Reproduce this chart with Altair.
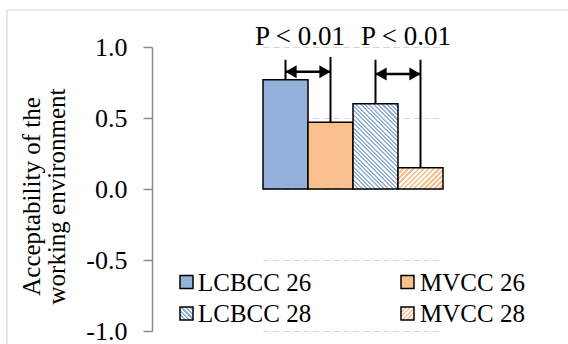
import altair as alt
import pandas as pd

# ---- data ---------------------------------------------------------------
series = ["LCBCC 26", "MVCC 26", "LCBCC 28", "MVCC 28"]
values = [0.77, 0.47, 0.60, 0.15]
base_colors = ["#93b1d9", "#f9c08e", "#93b1d9", "#f9c08e"]
hatch_style = [None, None, "back", "fwd"]   # "\\\\" stripes / "////" stripes

# significance brackets between pairs of bars
pair_left = ["LCBCC 26", "LCBCC 28"]
pair_right = ["MVCC 26", "MVCC 28"]
bracket_top_left = [0.91, 0.91]
bracket_top_right = [0.93, 0.91]
arrow_level = [0.825, 0.81]
pair_label = ["P < 0.01", "P < 0.01"]

y_ticks = [-1.0, -0.5, 0.0, 0.5, 1.0]
y_title = ["Acceptability of the", "working environment"]

# ---- layout ---------------------------------------------------------------
W, H = 406, 284
PAD = {"left": 152, "top": 47, "right": 10, "bottom": 13}
BAR_SPAN = [111, 291]          # pixel extent of the group of bars
STEP = (BAR_SPAN[1] - BAR_SPAN[0]) / len(series)
SERIF = "Liberation Serif"


def hatch(color, w, h, period, direction):
    """Linear gradient with hard stops giving 45-degree stripes on a w x h box."""
    n = max(1, round((w + h) / period))
    L = (w + h) * w / (w * w + h * h)
    if direction == "back":
        x1, y1, x2, y2 = 0, 1, L, 1 - L * h / w
    else:
        x1, y1, x2, y2 = 0, 0, L, L * h / w
    stops = []
    for k in range(n):
        a, m, b = k / n, (k + 0.5) / n, (k + 1) / n
        stops += [
            {"offset": a, "color": color},
            {"offset": m, "color": color},
            {"offset": m, "color": "white"},
            {"offset": b, "color": "white"},
        ]
    return {"gradient": "linear", "x1": x1, "y1": y1, "x2": x2, "y2": y2, "stops": stops}


def fill_for(i, w, h, period=None):
    if hatch_style[i] is None:
        return base_colors[i]
    if period is None:
        period = 4.3 if hatch_style[i] == "back" else 5.0
    return hatch(base_colors[i], w, h, period, hatch_style[i])


x_scale = alt.Scale(domain=series, range=BAR_SPAN, paddingInner=0, paddingOuter=0)


def x_of(field, **kw):
    return alt.X(f"{field}:N", scale=x_scale, axis=None, **kw)


bars_df = pd.DataFrame({"series": series, "value": values})

y_axis = alt.Axis(
    values=y_ticks,
    labelExpr="datum.value < 0 ? '-' + format(-datum.value, '.1f') : format(datum.value, '.1f')",
    labelFont=SERIF, labelFontSize=26, labelColor="black", labelPadding=16,
    tickSize=9, tickColor="#8c8c8c", tickWidth=1.5,
    domainColor="#8c8c8c", domainWidth=1.5,
    grid=True, gridColor="#d4d4d4", gridDash=[6, 4], gridWidth=1.2,
    title=y_title, titleFont=SERIF, titleFontSize=25, titleFontWeight="normal",
    titleColor="black", titlePadding=16, titleLineHeight=25, titleY=149,
)
y_enc = alt.Y("value:Q", scale=alt.Scale(domain=[-1, 1], nice=False, zero=False), axis=y_axis)

layers = []

# light frame around the whole figure
frame = alt.Chart(pd.DataFrame({"f": [0]})).mark_rect(
    filled=False, stroke="#d9d9d9", strokeWidth=1.2
).encode(x=alt.value(-145), x2=alt.value(W + 60), y=alt.value(-37), y2=alt.value(H + 60))
layers.append(frame)

# one bar layer per series so each gets its own fill
for i, s in enumerate(series):
    h_px = abs(values[i]) * H / 2
    bar = alt.Chart(bars_df).transform_filter(alt.datum.series == s).mark_bar(
        fill=fill_for(i, STEP, h_px), stroke="black", strokeWidth=1.5
    ).encode(x=x_of("series"), y=y_enc)
    layers.append(bar)

# vertical bracket legs from each bar top
value_of = dict(zip(series, values))
legs = pd.DataFrame({
    "series": pair_left + pair_right,
    "base": [value_of[s] for s in pair_left + pair_right],
    "top": bracket_top_left + bracket_top_right,
})
layers.append(
    alt.Chart(legs).mark_rule(color="black", strokeWidth=2).encode(
        x=x_of("series"), y="base:Q", y2="top:Q")
)

pairs = pd.DataFrame({"left": pair_left, "right": pair_right,
                      "level": arrow_level, "label": pair_label})
layers.append(
    alt.Chart(pairs).mark_rule(color="black", strokeWidth=2.5).encode(
        x=x_of("left"), x2="right:N", y="level:Q")
)
layers.append(
    alt.Chart(pairs).mark_point(shape="triangle-left", filled=True, color="black",
                                opacity=1, size=170, xOffset=5.5).encode(
        x=x_of("left"), y="level:Q")
)
layers.append(
    alt.Chart(pairs).mark_point(shape="triangle-right", filled=True, color="black",
                                opacity=1, size=170, xOffset=-5.5).encode(
        x=x_of("right"), y="level:Q")
)
for i, dx in enumerate([-8, 8]):
    layers.append(
        alt.Chart(pairs.iloc[[i]]).mark_text(
            font=SERIF, fontSize=27, color="black", baseline="alphabetic", dx=dx, dy=-2
        ).encode(x=x_of("right", bandPosition=0), y=alt.datum(1.0), text="label:N")
    )

# legend, two columns inside the plot
sym_x = [28, 249]
txt_x = [46, 268]
row_mid = [235, 266.5]
SYM = 13
for i, s in enumerate(series):
    col, row = i % 2, i // 2
    one = pd.DataFrame({"series": [s]})
    layers.append(
        alt.Chart(one).mark_rect(fill=fill_for(i, SYM, SYM, 4.0),
                                 stroke="black", strokeWidth=1.5).encode(
            x=alt.value(sym_x[col]), x2=alt.value(sym_x[col] + SYM),
            y=alt.value(row_mid[row] - SYM / 2), y2=alt.value(row_mid[row] + SYM / 2))
    )
    layers.append(
        alt.Chart(one).mark_text(font=SERIF, fontSize=25, color="black",
                                 align="left", baseline="alphabetic").encode(
            x=alt.value(txt_x[col]), y=alt.value(row_mid[row] + 8.5), text="series:N")
    )

chart = alt.layer(*layers).properties(
    width=W, height=H, padding=PAD,
    autosize=alt.AutoSizeParams(type="none"),
    background="white",
).configure_view(stroke="transparent")

chart.save("out.html", embed_options={"renderer": "svg", "actions": False})
